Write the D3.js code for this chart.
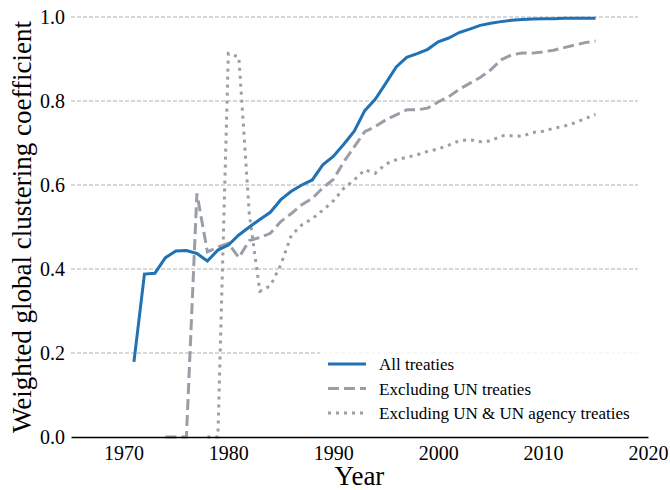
<!DOCTYPE html>
<html lang="en">
<head>
  <meta charset="UTF-8">
  <title>Weighted global clustering coefficient</title>
  <style>
    body {
      margin: 0;
      padding: 0;
      background-color: white;
    }
    svg text {
      font-family: "Liberation Serif", "DejaVu Serif", serif !important;
      fill: black;
    }
    .grid line {
      stroke: #b0b0b0;
      stroke-width: 1;
      stroke-dasharray: 4,2;
    }
  </style>
  <script src="https://d3js.org/d3.v7.min.js"></script>
</head>
<body>
  <div id="chart"></div>
  <script>
    const allYears = [1971, 1972, 1973, 1974, 1975, 1976, 1977, 1978, 1979, 1980,
      1981, 1982, 1983, 1984, 1985, 1986, 1987, 1988, 1989, 1990,
      1991, 1992, 1993, 1994, 1995, 1996, 1997, 1998, 1999, 2000,
      2001, 2002, 2003, 2004, 2005, 2006, 2007, 2008, 2009, 2010,
      2011, 2012, 2013, 2014, 2015];
    const allValues = [0.179, 0.388, 0.390, 0.427, 0.443, 0.444, 0.437, 0.419, 0.445, 0.457,
      0.481, 0.500, 0.518, 0.535, 0.565, 0.585, 0.600, 0.612, 0.648, 0.668,
      0.697, 0.728, 0.777, 0.804, 0.842, 0.881, 0.904, 0.913, 0.923, 0.941,
      0.950, 0.963, 0.971, 0.980, 0.985, 0.989, 0.992, 0.994, 0.995, 0.996,
      0.996, 0.997, 0.997, 0.997, 0.997];

    const noUnYears = [1974, 1975, 1976, 1977, 1978, 1979, 1980,
      1981, 1982, 1983, 1984, 1985, 1986, 1987, 1988, 1989, 1990,
      1991, 1992, 1993, 1994, 1995, 1996, 1997, 1998, 1999, 2000,
      2001, 2002, 2003, 2004, 2005, 2006, 2007, 2008, 2009, 2010,
      2011, 2012, 2013, 2014, 2015];
    const noUnValues = [0, 0, 0, 0.580, 0.441, 0.452, 0.461,
      0.427, 0.468, 0.475, 0.485, 0.513, 0.532, 0.553, 0.568, 0.593, 0.613,
      0.655, 0.691, 0.727, 0.739, 0.755, 0.767, 0.779, 0.779, 0.783, 0.798,
      0.810, 0.828, 0.842, 0.856, 0.874, 0.898, 0.910, 0.914, 0.914, 0.917,
      0.921, 0.927, 0.933, 0.939, 0.943];

    const noAgencyYears = [1978, 1979, 1980,
      1981, 1982, 1983, 1984, 1985, 1986, 1987, 1988, 1989, 1990,
      1991, 1992, 1993, 1994, 1995, 1996, 1997, 1998, 1999, 2000,
      2001, 2002, 2003, 2004, 2005, 2006, 2007, 2008, 2009, 2010,
      2011, 2012, 2013, 2014, 2015];
    const noAgencyValues = [0, 0, 0.913,
      0.905, 0.530, 0.347, 0.360, 0.410, 0.480, 0.505, 0.520, 0.540, 0.562,
      0.592, 0.612, 0.636, 0.628, 0.650, 0.660, 0.666, 0.672, 0.680, 0.686,
      0.695, 0.705, 0.708, 0.703, 0.705, 0.717, 0.717, 0.716, 0.725, 0.728,
      0.735, 0.740, 0.748, 0.758, 0.768];

    const xTicks = [1970, 1980, 1990, 2000, 2010, 2020];
    const yTicks = [0.0, 0.2, 0.4, 0.6, 0.8, 1.0];

    const seriesNames = ["All treaties", "Excluding UN treaties", "Excluding UN & UN agency treaties"];

    const series = [
      { name: seriesNames[0], data: allYears.map((y, i) => ({ year: y, value: allValues[i] })),
        color: "#2171b5", dash: null },
      { name: seriesNames[1], data: noUnYears.map((y, i) => ({ year: y, value: noUnValues[i] })),
        color: "#9a9ea7", dash: "11,5" },
      { name: seriesNames[2], data: noAgencyYears.map((y, i) => ({ year: y, value: noAgencyValues[i] })),
        color: "#9a9ea7", dash: "3,5" }
    ];

    const width = 670, height = 490;
    const plotLeft = 71, plotRight = 648, plotTop = 17, plotBottom = 437;

    const svg = d3.select("#chart")
      .append("svg")
      .attr("width", width)
      .attr("height", height)
      .style("display", "block");

    const xScale = d3.scaleLinear()
      .domain([1965, 2020])
      .range([plotLeft, plotRight]);

    const yScale = d3.scaleLinear()
      .domain([0, 1])
      .range([plotBottom, plotTop]);

    // horizontal grid lines (not at zero, the axis sits there)
    svg.append("g")
      .attr("class", "grid")
      .selectAll("line")
      .data(yTicks.filter(d => d > 0))
      .enter()
      .append("line")
      .attr("x1", plotLeft)
      .attr("x2", 638)
      .attr("y1", d => yScale(d))
      .attr("y2", d => yScale(d));

    const line = d3.line()
      .x(d => xScale(d.year))
      .y(d => yScale(d.value));

    // draw grey ones first so blue stays on top
    [series[2], series[1], series[0]].forEach(s => {
      svg.append("path")
        .datum(s.data)
        .attr("d", line)
        .attr("fill", "none")
        .attr("stroke", s.color)
        .attr("stroke-width", 3)
        .attr("stroke-dasharray", s.dash);
    });

    const xAxis = svg.append("g")
      .attr("transform", `translate(0, ${plotBottom})`)
      .call(d3.axisBottom(xScale).tickValues(xTicks).tickFormat(d3.format("d")).tickSize(0).tickPadding(9));
    xAxis.select(".domain").attr("stroke", "black").attr("stroke-width", 1.5);
    xAxis.selectAll("text").style("font-size", "20px");

    const yAxis = svg.append("g")
      .attr("transform", `translate(${plotLeft}, 0)`)
      .call(d3.axisLeft(yScale).tickValues(yTicks).tickFormat(d3.format(".1f")).tickSize(0).tickPadding(6));
    yAxis.select(".domain").remove();
    yAxis.selectAll("text").style("font-size", "20px");

    svg.append("text")
      .attr("x", (plotLeft + plotRight) / 2)
      .attr("y", 485)
      .attr("text-anchor", "middle")
      .style("font-size", "27px")
      .text("Year");

    svg.append("text")
      .attr("transform", `translate(31, ${(plotTop + plotBottom) / 2}) rotate(-90)`)
      .attr("text-anchor", "middle")
      .style("font-size", "27px")
      .text("Weighted global clustering coefficient");

    // legend
    const legend = svg.append("g");
    legend.append("rect")
      .attr("x", 320)
      .attr("y", 346)
      .attr("width", 322)
      .attr("height", 82)
      .attr("fill", "white")
      .attr("fill-opacity", 0.8);

    const entries = legend.selectAll(".legend-entry")
      .data(series)
      .enter()
      .append("g")
      .attr("class", "legend-entry")
      .attr("transform", (d, i) => `translate(328, ${364 + i * 24.5})`);

    entries.append("line")
      .attr("x1", 0)
      .attr("x2", 38)
      .attr("stroke", d => d.color)
      .attr("stroke-width", 3)
      .attr("stroke-dasharray", d => d.dash);

    entries.append("text")
      .attr("x", 51)
      .attr("y", 6)
      .style("font-size", "17px")
      .text(d => d.name);
  </script>
</body>
</html>
